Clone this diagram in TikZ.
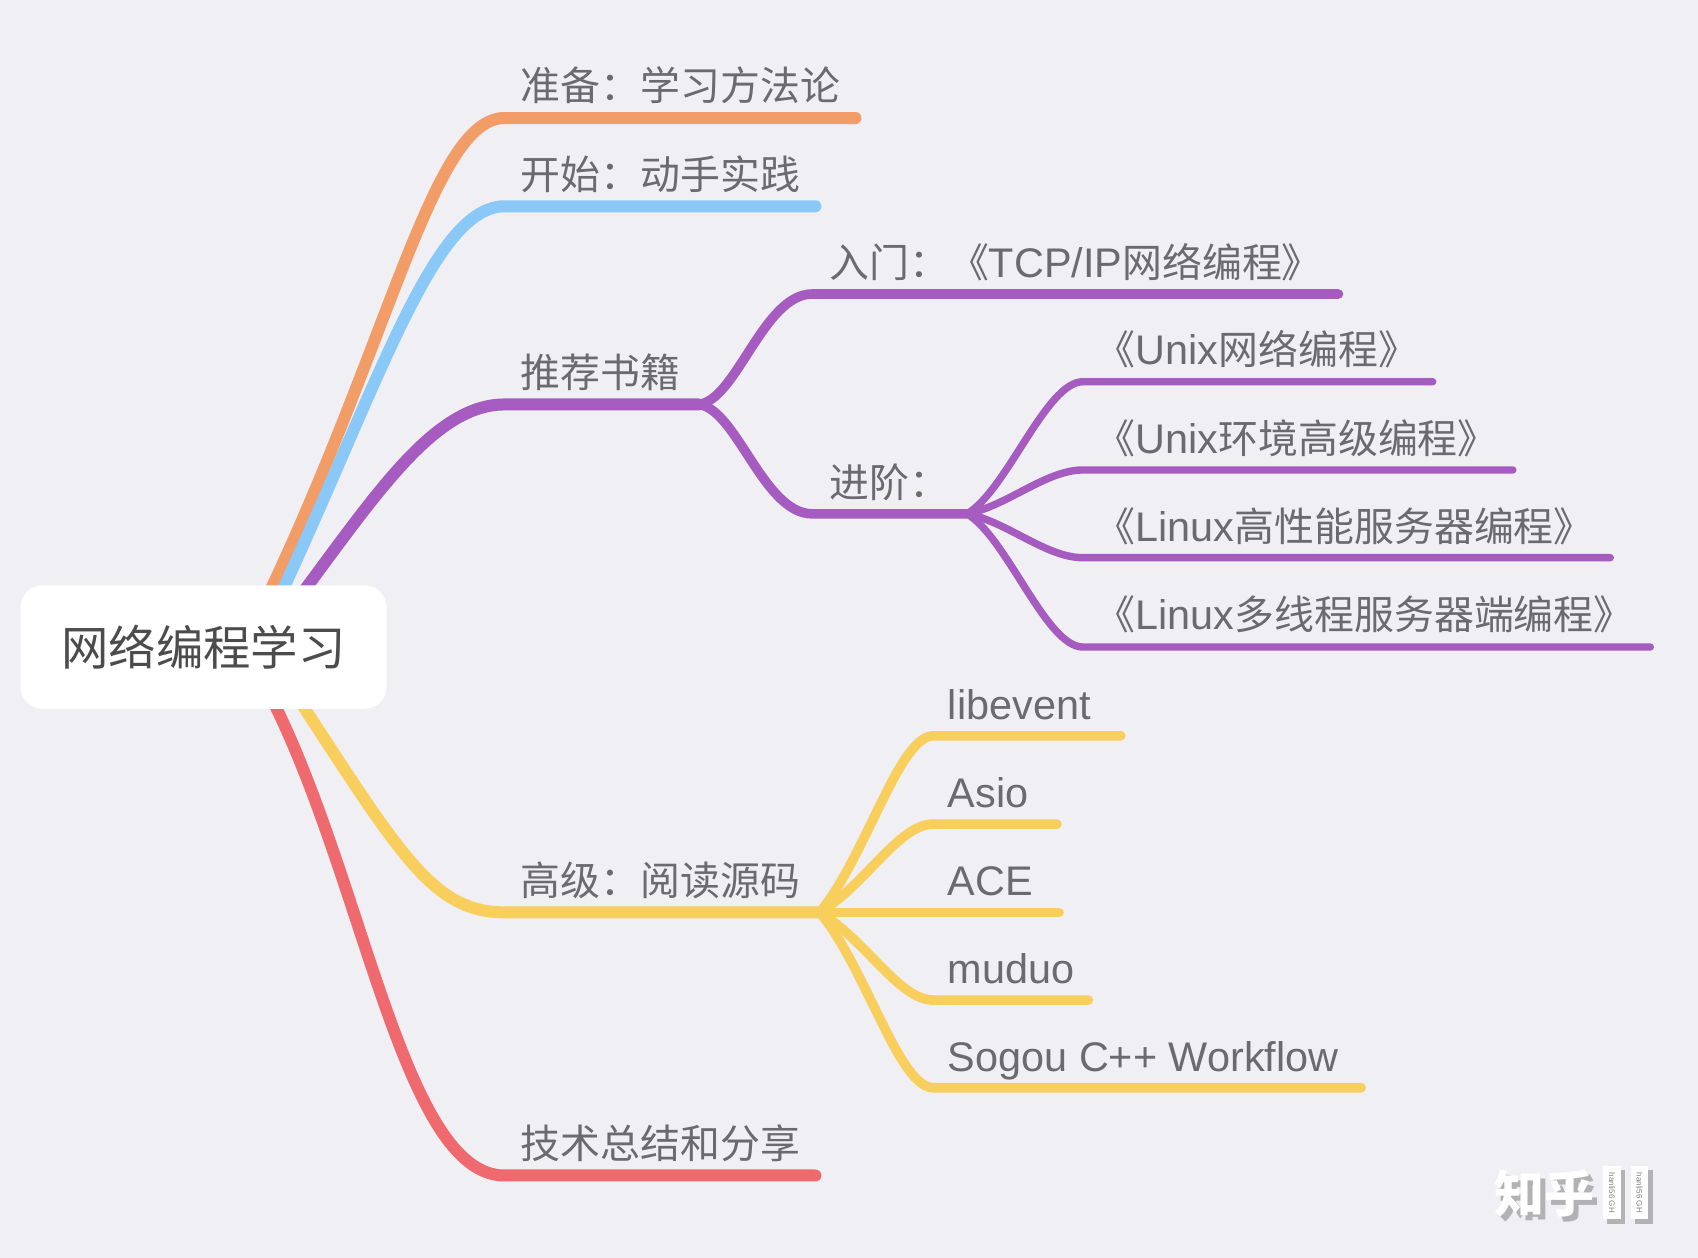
\documentclass[tikz,border=0pt]{standalone}
\usepackage{fontspec}
\setmainfont{Noto Sans CJK SC}
\newfontfamily\latf{Liberation Sans}
\newcommand{\lat}[1]{{\latf\fontsize{20.7}{24}\selectfont #1}}
\definecolor{bgc}{HTML}{EFEFF4}
\definecolor{txt}{HTML}{6B6B6E}
\definecolor{org}{HTML}{F29D68}
\definecolor{blu}{HTML}{8AC8F8}
\definecolor{pur}{HTML}{A55BC0}
\definecolor{yel}{HTML}{F8CE5C}
\definecolor{red1}{HTML}{EE6A6E}
\definecolor{shad}{HTML}{B2B2B4}
\tikzset{
 x=0.5415pt,y=-0.5415pt,
 lab/.style={anchor=base west,inner sep=0pt,text=txt,font=\fontsize{19.95}{24}\selectfont},
 main/.style={line width=6pt,line cap=round},
 sub/.style={line width=4.8pt,line cap=round},
 leafp/.style={line width=3.7pt,line cap=round},
 leafy/.style={line width=4.8pt,line cap=round},
 rootbox/.style={fill=white,rounded corners=11pt,minimum width=338*0.5415pt,minimum height=114*0.5415pt,inner sep=0pt,text=black!70,font=\fontsize{23.7}{28}\selectfont},
 wm/.style={anchor=base west,inner sep=0pt,font=\fontsize{25}{25}\selectfont\bfseries},
 tiny/.style={inner sep=0pt,rotate=-90,text=black!50,font=\latf\fontsize{4}{4}\selectfont},
}
\begin{document}
\begin{tikzpicture}
\useasboundingbox (0,0) rectangle (1568,1161.7);
\fill[bgc] (0,0) rectangle (1568,1161.7);
\coordinate (o0) at (245,555);
\coordinate (b0) at (255,558);
\coordinate (p0) at (270,560);
\coordinate (y0) at (272,640);
\coordinate (r0) at (243,630);
\coordinate (o1) at (466,109); \coordinate (o2) at (790,109);
\coordinate (b1) at (466,190.5); \coordinate (b2) at (753,190.5);
\coordinate (p1) at (466,373.5); \coordinate (p2) at (645,373.5);
\coordinate (y1) at (466,842.5); \coordinate (y2) at (757,842.5);
\coordinate (r1) at (466,1085.5); \coordinate (r2) at (753,1085.5);
\coordinate (q1) at (750,271.5); \coordinate (q2) at (1236,271.5);
\coordinate (s1) at (750,474.5); \coordinate (s2) at (893,474.5);
% main branches
\draw[main,org] (o0) .. controls (362,310) and (400,109) .. (o1) -- (o2);
\draw[main,blu] (b0) .. controls (350,355) and (400,190.5) .. (b1) -- (b2);
\draw[main,pur] (p0) .. controls (345,460) and (400,373.5) .. (p1) -- (p2);
\draw[main,yel] (y0) .. controls (370,790) and (400,842.5) .. (y1) -- (y2);
\draw[main,red1] (r0) .. controls (335,800) and (370,1085.5) .. (r1) -- (r2);
% purple sub
\draw[sub,pur] (p2) .. controls (680,370) and (705,271.5) .. (q1) -- (q2);
\draw[sub,pur] (p2) .. controls (680,377) and (705,474.5) .. (s1) -- (s2);
\foreach \n/\yy/\xe in {a/352.5/1323,b/434/1397,c/515/1487,d/597.5/1524}{
  \coordinate (l\n) at (1000,\yy); \coordinate (m\n) at (\xe,\yy);
  \draw[leafp,pur] (s2) .. controls (930,{474.5+0.18*(\yy-474.5)}) and (966,\yy) .. (l\n) -- (m\n);
}
\foreach \n/\yy/\xe in {e/679.5/1035,f/761/976,h/923.5/1005,i/1004.5/1257}{
  \coordinate (l\n) at (862,\yy); \coordinate (m\n) at (\xe,\yy);
  \draw[leafy,yel] (y2) .. controls (800,{842.5+0.32*(\yy-842.5)}) and (830,\yy) .. (l\n) -- (m\n);
}
\coordinate (mg) at (978,842.5);
\draw[leafy,yel] (y2) -- (mg);
% root
\node[rootbox] (root) at (188,597.5) {网络编程学习};
% labels
\node[lab] (t1) at (480.5,93) {准备：学习方法论};
\node[lab] (t2) at (480.5,175) {开始：动手实践};
\node[lab] (t3) at (480.5,358) {推荐书籍};
\node[lab] (t4) at (480.5,827) {高级：阅读源码};
\node[lab] (t5) at (480.5,1070) {技术总结和分享};
\node[lab] (t6) at (765.5,256) {入门：《\lat{TCP/IP}网络编程》};
\node[lab] (t7) at (765.5,459) {进阶：};
\node[lab] (t8) at (1011.5,337) {《\lat{Unix}网络编程》};
\node[lab] (t9) at (1011.5,418.5) {《\lat{Unix}环境高级编程》};
\node[lab] (t10) at (1011.5,500) {《\lat{Linux}高性能服务器编程》};
\node[lab] (t11) at (1011.5,581) {《\lat{Linux}多线程服务器端编程》};
\node[lab] (t12) at (875,664.5) {\lat{libevent}};
\node[lab] (t13) at (875,745.5) {\lat{Asio}};
\node[lab] (t14) at (875,827) {\lat{ACE}};
\node[lab] (t15) at (875,908) {\lat{muduo}};
\node[lab] (t16) at (875,989.5) {\lat{Sogou C++ Workflow}};
% watermark
\node[wm,text=shad] (w0) at (1384,1124) {知乎};
\node[wm,text=white] (w1) at (1380,1120) {知乎};
\fill[shad] (1484,1080) rectangle (1501,1130);
\fill[shad] (1510,1080) rectangle (1526,1130);
\fill[white] (1480,1077) rectangle (1497,1126);
\fill[white] (1506,1077) rectangle (1522,1126);
\node[tiny] (w2) at (1488.5,1101.5) {hanli56 GH};
\node[tiny] (w3) at (1514,1101.5) {hanli56 GH};
\end{tikzpicture}
\end{document}
